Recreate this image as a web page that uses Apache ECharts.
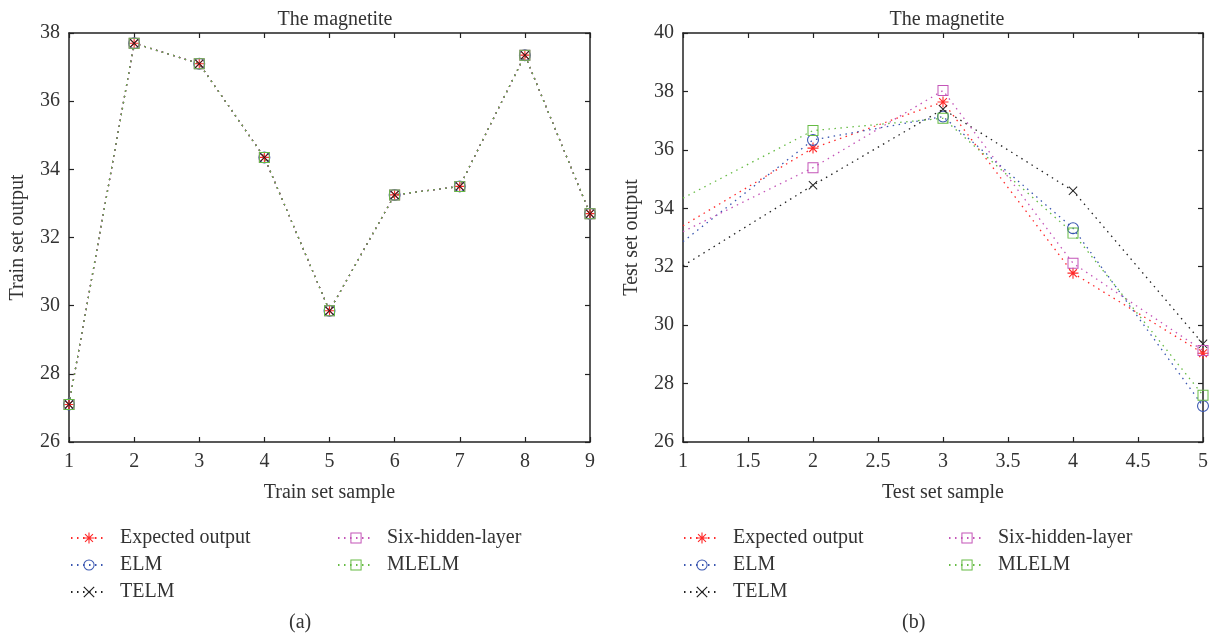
<!DOCTYPE html>
<html>
<head>
<meta charset="utf-8">
<title>The magnetite</title>
<script src="https://cdn.jsdelivr.net/npm/echarts@6/dist/echarts.min.js"></script>
<style>
  html, body { margin: 0; background: #fff; }
  #chart { width: 1212px; height: 639px; }
</style>
</head>
<body>
<div id="chart"></div>
<script>
// names of the five models
const seriesNames = ["Expected output", "ELM", "TELM", "Six-hidden-layer", "MLELM"];

// (a) training set
const trainSample = [1, 2, 3, 4, 5, 6, 7, 8, 9];
const trainExpected = [27.1, 37.7, 37.1, 34.35, 29.85, 33.25, 33.5, 37.35, 32.7];
const trainELM = [27.1, 37.7, 37.1, 34.35, 29.85, 33.25, 33.5, 37.35, 32.7];
const trainTELM = [27.1, 37.7, 37.1, 34.35, 29.85, 33.25, 33.5, 37.35, 32.7];
const trainSix = [27.1, 37.7, 37.1, 34.35, 29.85, 33.25, 33.5, 37.35, 32.7];
const trainMLELM = [27.1, 37.7, 37.1, 34.35, 29.85, 33.25, 33.5, 37.35, 32.7];

// (b) test set
const testSample = [1, 2, 3, 4, 5];
const testExpected = [33.4, 36.06, 37.64, 31.78, 29.04];
const testELM = [32.86, 36.34, 37.14, 33.32, 27.23];
const testTELM = [32.03, 34.79, 37.39, 34.6, 29.36];
const testSix = [33.2, 35.39, 38.03, 32.12, 29.13];
const testMLELM = [34.35, 36.66, 37.08, 33.15, 27.6];

const FONT = "Liberation Serif";
const AXIS_COLOR = "#222";

// hollow / stroke-like markers drawn as filled paths so nothing hides what is below
const ASTERISK = "path://M-0.5,-5L0.5,-5L0.5,5L-0.5,5Z M-5,-0.5L5,-0.5L5,0.5L-5,0.5Z " +
  "M3.89,3.19L3.19,3.89L-3.89,-3.19L-3.19,-3.89Z M3.19,-3.89L3.89,-3.19L-3.19,3.89L-3.89,3.19Z";
const CROSS = "path://M4.6,3.9L3.9,4.6L-4.6,-3.9L-3.9,-4.6Z M3.9,-4.6L4.6,-3.9L-3.9,4.6L-4.6,3.9Z";
const RING = "path://M0,-5A5,5 0 1,1 0,5A5,5 0 1,1 0,-5Z M0,-4.1A4.1,4.1 0 1,0 0,4.1A4.1,4.1 0 1,0 0,-4.1Z";
const SQUARE = "path://M-5,-5L5,-5L5,5L-5,5Z M-4.1,-4.1L-4.1,4.1L4.1,4.1L4.1,-4.1Z";

const styles = [
  { color: "#ff2a2a", symbol: ASTERISK, size: 11 },
  { color: "#3a56b0", symbol: RING, size: 12 },
  { color: "#222222", symbol: CROSS, size: 9 },
  { color: "#c455b8", symbol: SQUARE, size: 11 },
  { color: "#66bb44", symbol: SQUARE, size: 11 }
];

// hideFirst: the test curves come in from the left edge without a marker at x = 1
function pairs(xs, ys, hideFirst) {
  return xs.map((x, i) => (hideFirst && i === 0)
    ? { value: [x, ys[i]], symbol: "none" }
    : [x, ys[i]]);
}

function makeSeries(xs, lists, axisIndex, hideFirst) {
  return lists.map((ys, i) => ({
    name: seriesNames[i],
    type: "line",
    xAxisIndex: axisIndex,
    yAxisIndex: axisIndex,
    data: pairs(xs, ys, hideFirst),
    symbol: styles[i].symbol,
    symbolSize: styles[i].size,
    showAllSymbol: true,
    itemStyle: { color: styles[i].color },
    lineStyle: { color: styles[i].color, type: [1.5, 4.5], width: 1.3 },
    emphasis: { disabled: true },
    animation: false
  }));
}

function mainX(gridIndex, min, max, interval, name) {
  return {
    type: "value", gridIndex, min, max, interval, name,
    nameLocation: "middle", nameGap: 41,
    nameTextStyle: { fontFamily: FONT, fontSize: 20, color: "#333" },
    axisLine: { lineStyle: { color: AXIS_COLOR, width: 1.5 } },
    axisTick: { inside: true, length: 5, lineStyle: { color: AXIS_COLOR, width: 1.2 } },
    axisLabel: { fontFamily: FONT, fontSize: 20, color: "#333", margin: 10 },
    splitLine: { show: false }
  };
}

function mainY(gridIndex, min, max, interval, name) {
  return {
    type: "value", gridIndex, min, max, interval, name,
    nameLocation: "middle", nameGap: 41,
    nameTextStyle: { fontFamily: FONT, fontSize: 20, color: "#333" },
    axisLine: { lineStyle: { color: AXIS_COLOR, width: 1.5 } },
    axisTick: { inside: true, length: 5, lineStyle: { color: AXIS_COLOR, width: 1.2 } },
    axisLabel: { fontFamily: FONT, fontSize: 20, color: "#333", margin: 9 },
    splitLine: { show: false }
  };
}

function mirror(gridIndex, min, max, interval, position) {
  return {
    type: "value", gridIndex, min, max, interval, position,
    axisLine: { show: true, onZero: false, lineStyle: { color: AXIS_COLOR, width: 1.5 } },
    axisTick: { inside: true, length: 5, lineStyle: { color: AXIS_COLOR, width: 1.2 } },
    axisLabel: { show: false },
    splitLine: { show: false }
  };
}

function legendBlock(left, top, names) {
  return {
    left, top, orient: "vertical", padding: 0,
    itemWidth: 36, itemHeight: 14, itemGap: 7,
    selectedMode: false,
    data: names,
    textStyle: { fontFamily: FONT, fontSize: 20, color: "#333", padding: [0, 0, 0, 8] }
  };
}

const chart = echarts.init(document.getElementById("chart"));
chart.setOption({
  backgroundColor: "#fff",
  animation: false,
  title: [
    { text: "The magnetite", left: 330, top: 5, textAlign: "center",
      textStyle: { fontFamily: FONT, fontSize: 20, fontWeight: "normal", color: "#333" } },
    { text: "The magnetite", left: 942, top: 5, textAlign: "center",
      textStyle: { fontFamily: FONT, fontSize: 20, fontWeight: "normal", color: "#333" } }
  ],
  grid: [
    { left: 69, top: 33, width: 521, height: 409 },
    { left: 683, top: 33, width: 520, height: 409 }
  ],
  xAxis: [
    mainX(0, 1, 9, 1, "Train set sample"),
    mainX(1, 1, 5, 0.5, "Test set sample"),
    mirror(0, 1, 9, 1, "top"),
    mirror(1, 1, 5, 0.5, "top")
  ],
  yAxis: [
    mainY(0, 26, 38, 2, "Train set output"),
    mainY(1, 26, 40, 2, "Test set output"),
    mirror(0, 26, 38, 2, "right"),
    mirror(1, 26, 40, 2, "right")
  ],
  legend: [
    legendBlock(70, 528, seriesNames.slice(0, 3)),
    legendBlock(337, 528, seriesNames.slice(3)),
    legendBlock(683, 528, seriesNames.slice(0, 3)),
    legendBlock(948, 528, seriesNames.slice(3))
  ],
  graphic: [
    { type: "text", left: 289, top: 613,
      style: { text: "(a)", fontFamily: FONT, fontSize: 20, fill: "#333" } },
    { type: "text", left: 902, top: 613,
      style: { text: "(b)", fontFamily: FONT, fontSize: 20, fill: "#333" } }
  ],
  series: [
    ...makeSeries(trainSample, [trainExpected, trainELM, trainTELM, trainSix, trainMLELM], 0, false),
    ...makeSeries(testSample, [testExpected, testELM, testTELM, testSix, testMLELM], 1, true)
  ]
});
</script>
</body>
</html>
